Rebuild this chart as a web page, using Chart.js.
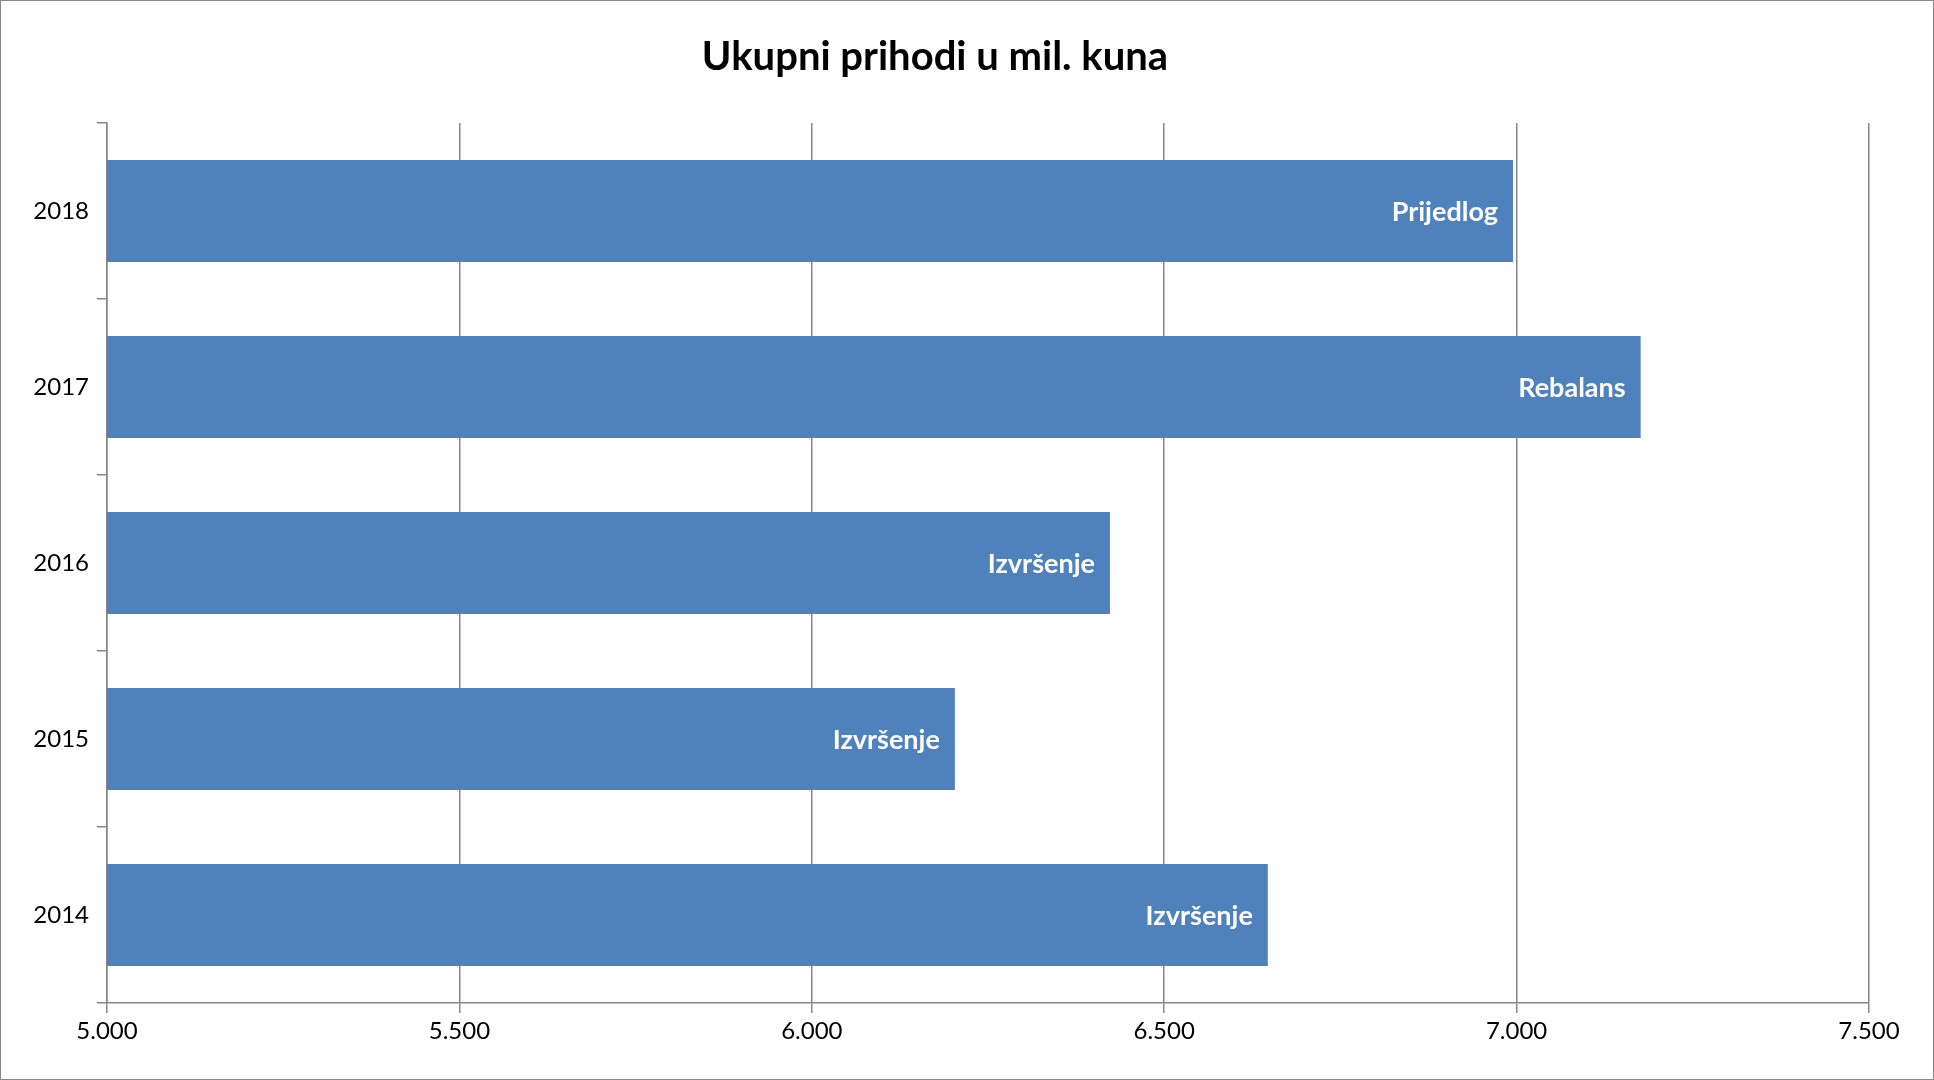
<!DOCTYPE html>
<html>
<head>
<meta charset="utf-8">
<script src="https://cdn.jsdelivr.net/npm/chart.js@4"></script>
<style>
  html, body { margin: 0; padding: 0; background: #fff; }
  #wrap { width: 1932px; height: 1078px; border: 1px solid #888; }
</style>
</head>
<body>
<div id="wrap"><canvas id="c" width="1932" height="1078"></canvas></div>
<script>
const years = ["2018", "2017", "2016", "2015", "2014"];
const prihodi = [6995, 7176, 6423, 6203, 6647];
const barLabels = ["Prijedlog", "Rebalans", "Izvršenje", "Izvršenje", "Izvršenje"];

const fmt = v => String(v).replace(/\B(?=(\d{3})+(?!\d))/g, ".");

// white bold text inside the bar end
const insideLabels = {
  id: "insideLabels",
  afterDatasetsDraw(chart) {
    const ctx = chart.ctx;
    const meta = chart.getDatasetMeta(0);
    ctx.save();
    ctx.fillStyle = "#fff";
    ctx.font = "bold 27px Lato, 'Open Sans', sans-serif";
    ctx.textAlign = "right";
    ctx.textBaseline = "middle";
    meta.data.forEach((bar, i) => {
      ctx.fillText(barLabels[i], bar.x - 15, bar.y + 1);
    });
    ctx.restore();
  }
};

new Chart(document.getElementById("c"), {
  type: "bar",
  data: {
    labels: years,
    datasets: [{
      data: prihodi,
      backgroundColor: "#4F81BD",
      categoryPercentage: 1,
      barPercentage: 0.58
    }]
  },
  options: {
    responsive: false,
    animation: false,
    indexAxis: "y",
    layout: { padding: { left: 0, right: 64, top: 0, bottom: 0 } },
    plugins: {
      legend: { display: false },
      tooltip: { enabled: false },
      title: {
        display: true,
        text: "Ukupni prihodi u mil. kuna",
        color: "#000",
        font: { size: 40, weight: "bold", family: "Lato, 'Open Sans', sans-serif" },
        padding: { top: 32, bottom: 42 }
      }
    },
    scales: {
      x: {
        min: 5000,
        max: 7500,
        ticks: {
          stepSize: 500,
          color: "#000",
          font: { size: 24, family: "Lato, 'Open Sans', sans-serif" },
          callback: v => fmt(v),
          padding: 4
        },
        grid: { color: "#868686", lineWidth: 1.5, tickLength: 10 },
        border: { color: "#868686", width: 1.5 },
        afterFit: s => { s.height = 76; }
      },
      y: {
        ticks: {
          color: "#000",
          font: { size: 24, family: "Lato, 'Open Sans', sans-serif" },
          padding: 8
        },
        grid: { offset: true, drawOnChartArea: false, color: "#868686", lineWidth: 1.5, tickLength: 10 },
        border: { color: "#868686", width: 1.5 },
        afterFit: s => { s.width = 106; }
      }
    }
  },
  plugins: [insideLabels]
});
</script>
</body>
</html>
